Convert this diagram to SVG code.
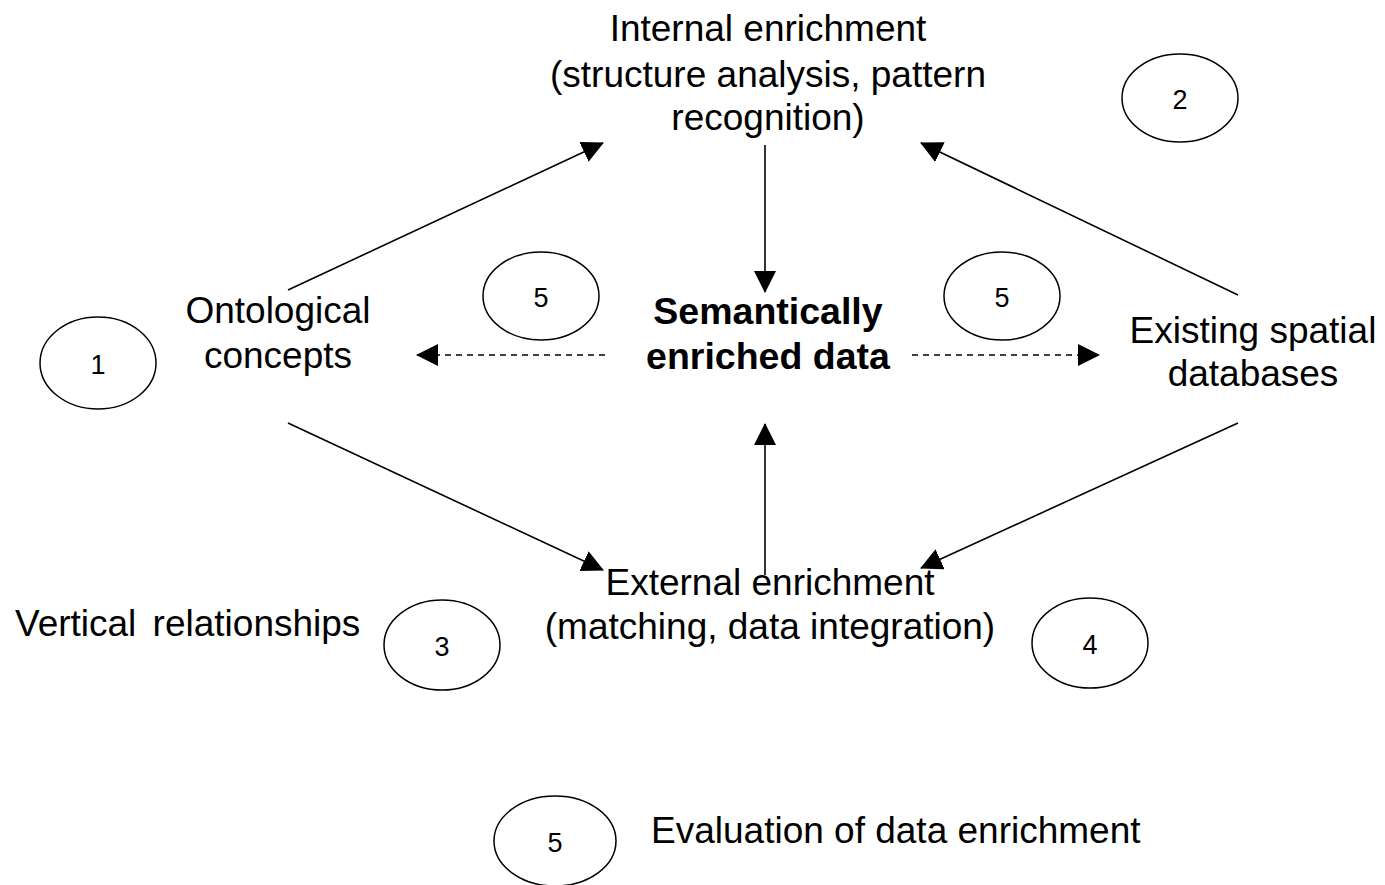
<svg xmlns="http://www.w3.org/2000/svg" width="1385" height="885" viewBox="0 0 1385 885">
<style>
text { font-family: "Liberation Sans", Arial, sans-serif; fill: #000; }
.t { font-size: 37px; text-anchor: middle; }
.tl { font-size: 37px; }
.b { font-size: 37.5px; font-weight: bold; text-anchor: middle; }
.n { font-size: 27px; text-anchor: middle; }
.e { fill: #fff; stroke: #000; stroke-width: 1.5; }
.c { stroke: #000; stroke-width: 1.6; fill: none; marker-end: url(#ah); }
.d { stroke-dasharray: 6 5; }
</style>
<defs>
<marker id="ah" markerUnits="userSpaceOnUse" markerWidth="22" markerHeight="22" viewBox="0 0 22 22" refX="21" refY="11" orient="auto">
<path d="M0,0 L22,11 L0,22 Z" fill="#000"/>
</marker>
</defs>
<rect width="1385" height="885" fill="#fff"/>
<g id="connectors">
<line class="c" x1="288" y1="290" x2="603" y2="143"/>
<line class="c" x1="1238" y1="295" x2="921" y2="143"/>
<line class="c" x1="765" y1="145" x2="765" y2="292"/>
<line class="c" x1="765" y1="575" x2="765" y2="424"/>
<line class="c" x1="288" y1="423" x2="603" y2="570"/>
<line class="c" x1="1238" y1="423" x2="921" y2="568"/>
<line class="c d" x1="605" y1="355" x2="417" y2="355"/>
<line class="c d" x1="912" y1="355" x2="1099" y2="355"/>
</g>
<g id="internal">
<text class="t" x="768" y="41">Internal enrichment</text>
<text class="t" x="768" y="87">(structure analysis, pattern</text>
<text class="t" x="768" y="130">recognition)</text>
</g>
<g id="ontological">
<text class="t" x="278" y="323">Ontological</text>
<text class="t" x="278" y="368">concepts</text>
</g>
<g id="semantic">
<text class="b" x="768" y="324">Semantically</text>
<text class="b" x="768" y="369">enriched data</text>
</g>
<g id="existing">
<text class="t" x="1253" y="343">Existing spatial</text>
<text class="t" x="1253" y="386">databases</text>
</g>
<g id="external">
<text class="t" x="770" y="595">External enrichment</text>
<text class="t" x="770" y="639">(matching, data integration)</text>
</g>
<g id="vertical">
<text class="tl" x="15" y="636" word-spacing="6">Vertical relationships</text>
</g>
<g id="evaluation">
<text class="tl" x="651" y="843">Evaluation of data enrichment</text>
</g>
<g id="badge1"><ellipse class="e" cx="98" cy="363" rx="58" ry="46"/><text class="n" x="98" y="374">1</text></g>
<g id="badge2"><ellipse class="e" cx="1180" cy="98" rx="58" ry="44"/><text class="n" x="1180" y="109">2</text></g>
<g id="badge3"><ellipse class="e" cx="442" cy="645" rx="58" ry="45"/><text class="n" x="442" y="656">3</text></g>
<g id="badge4"><ellipse class="e" cx="1090" cy="643" rx="58" ry="45"/><text class="n" x="1090" y="654">4</text></g>
<g id="badge5a"><ellipse class="e" cx="541" cy="296" rx="58" ry="44"/><text class="n" x="541" y="307">5</text></g>
<g id="badge5b"><ellipse class="e" cx="1002" cy="296" rx="58" ry="44"/><text class="n" x="1002" y="307">5</text></g>
<g id="badge5c"><ellipse class="e" cx="555" cy="841" rx="61" ry="45"/><text class="n" x="555" y="852">5</text></g>
</svg>
